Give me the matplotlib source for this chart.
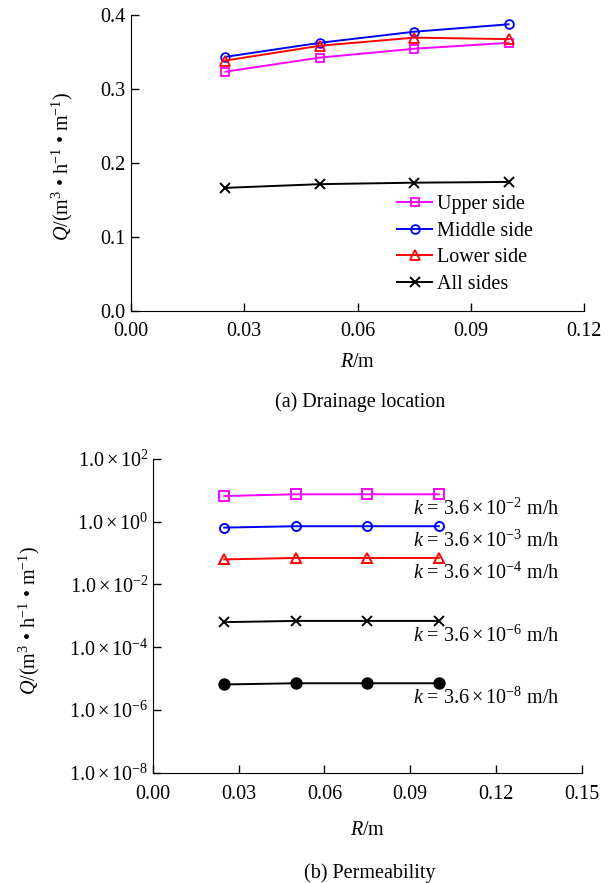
import numpy as np
import matplotlib
matplotlib.use("Agg")
import matplotlib.pyplot as plt
from matplotlib.ticker import FuncFormatter, FixedLocator, NullLocator

plt.rcParams['font.family'] = ['Liberation Serif', 'DejaVu Serif']
plt.rcParams['mathtext.fontset'] = 'custom'
plt.rcParams['mathtext.rm'] = 'Liberation Serif'
plt.rcParams['mathtext.it'] = 'Liberation Serif:italic'
plt.rcParams['font.size'] = 14.5

# (a) drainage location
R = [0.025, 0.05, 0.075, 0.1]
upper_side = [0.323, 0.342, 0.354, 0.362]
middle_side = [0.343, 0.362, 0.377, 0.387]
lower_side = [0.338, 0.358, 0.369, 0.367]
all_sides = [0.166, 0.171, 0.173, 0.174]

# (b) permeability
k_exponents = [-2, -3, -4, -6, -8]
q_k2 = [6.6, 7.5, 7.5, 7.5]
q_k3 = [0.65, 0.72, 0.72, 0.72]
q_k4 = [0.063, 0.070, 0.070, 0.070]
q_k6 = [6.3e-4, 6.9e-4, 6.9e-4, 6.9e-4]
q_k8 = [6.5e-6, 7.1e-6, 7.1e-6, 7.1e-6]

ylab = r'$Q$/(m$^3$ • h$^{-1}$ • m$^{-1}$)'

fig = plt.figure(figsize=(6.09, 8.83), dpi=100)


def style_axes(ax):
    ax.spines['top'].set_visible(False)
    ax.spines['right'].set_visible(False)
    ax.tick_params(direction='in', length=5.5, width=1)


# ---- top panel ----
ax1 = fig.add_axes([131 / 609, 1 - 310.7 / 883, 453 / 609, 296 / 883])
ax1.plot(R, upper_side, color='#ff00ff', marker='s', mfc='none', ms=6, mew=1.3, lw=1.4, label='Upper side')
ax1.plot(R, middle_side, color='#0000ff', marker='o', mfc='none', ms=6.3, mew=1.3, lw=1.4, label='Middle side')
ax1.plot(R, lower_side, color='#ff0000', marker='^', mfc='none', ms=6.5, mew=1.3, lw=1.4, label='Lower side')
ax1.plot(R, all_sides, color='black', marker='x', ms=7, mew=1.4, lw=1.4, label='All sides')
ax1.set_xlim(0, 0.12)
ax1.set_ylim(0, 0.4)
ax1.set_xticks([0, 0.03, 0.06, 0.09, 0.12])
ax1.set_yticks([0, 0.1, 0.2, 0.3, 0.4])
ax1.xaxis.set_major_formatter(FuncFormatter(lambda v, p: '%.2f' % v))
ax1.yaxis.set_major_formatter(FuncFormatter(lambda v, p: '%.1f' % v))
style_axes(ax1)
ax1.tick_params(axis='x', pad=8)
ax1.tick_params(axis='y', pad=4)
ax1.set_xlabel(r'$R$/m')
ax1.xaxis.set_label_coords(0.5, -0.142)
ax1.set_ylabel(ylab)
ax1.yaxis.set_label_coords(-0.124, 0.487)
ax1.legend(loc='upper left', bbox_to_anchor=(0.587, 0.39), frameon=False,
           handlelength=1.75, labelspacing=0.37, borderaxespad=0, borderpad=0,
           handletextpad=0.25)

fig.text(360 / 609, 1 - 402 / 883, '(a) Drainage location', ha='center', va='center')

# ---- bottom panel ----
ax2 = fig.add_axes([152.7 / 609, 1 - 772.7 / 883, 429.3 / 609, 313.7 / 883])
series_b = [q_k2, q_k3, q_k4, q_k6, q_k8]
colors_b = ['#ff00ff', '#0000ff', '#ff0000', 'black', 'black']
markers_b = ['s', 'o', '^', 'x', 'o']
fills_b = ['none', 'none', 'none', 'black', 'black']
sizes_b = [6.5, 6.5, 7, 7.5, 7.5]
for q, c, m, f, s, e in zip(series_b, colors_b, markers_b, fills_b, sizes_b, k_exponents):
    ax2.plot(R, q, color=c, marker=m, mfc=f, ms=s, mew=1.4, lw=1.4)
    ax2.annotate(r'$k$ = $\mathregular{3.6\times10^{-%d}}$ m/h' % (-e), xy=(R[-1], q[-1]),
                 xytext=(-19, -11), textcoords='offset points', ha='left', va='center')
ax2.set_yscale('log')
ax2.set_xlim(0, 0.15)
ax2.set_ylim(1e-8, 1e2)
ax2.set_xticks([0, 0.03, 0.06, 0.09, 0.12, 0.15])
ax2.xaxis.set_major_formatter(FuncFormatter(lambda v, p: '%.2f' % v))
ax2.yaxis.set_major_locator(FixedLocator([1e-8, 1e-6, 1e-4, 1e-2, 1e0, 1e2]))
ax2.yaxis.set_minor_locator(NullLocator())
ax2.yaxis.set_major_formatter(FuncFormatter(
    lambda v, p: r'$\mathregular{1.0\times10^{%d}}$' % int(round(np.log10(v)))))
style_axes(ax2)
ax2.tick_params(axis='y', pad=3)
ax2.tick_params(axis='x', pad=9)
ax2.set_xlabel(r'$R$/m')
ax2.xaxis.set_label_coords(0.5, -0.153)
ax2.set_ylabel(ylab)
ax2.yaxis.set_label_coords(-0.258, 0.487)

fig.text(370 / 609, 1 - 873 / 883, '(b) Permeability', ha='center', va='center')

fig.savefig('out.png', dpi=100)
